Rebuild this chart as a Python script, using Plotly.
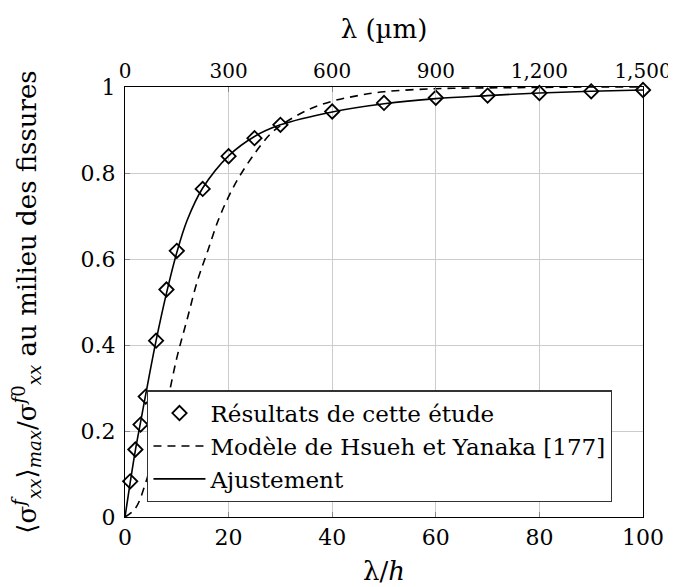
import plotly.graph_objects as go

# Results of this study (lambda/h, normalised stress)
res_x = [1, 2, 3, 4, 6, 8, 10, 15, 20, 25, 30, 40, 50, 60, 70, 80, 90, 100]
res_y = [0.083, 0.157, 0.215, 0.28, 0.41, 0.529, 0.619, 0.763, 0.839, 0.881,
         0.912, 0.943, 0.963, 0.975, 0.980, 0.986, 0.990, 0.993]

# Hsueh & Yanaka model
hy_x = [0, 2, 4, 6, 8, 10, 12, 14, 16, 18, 20, 22, 25, 28, 30, 35, 40, 45, 50, 60, 70, 80, 90, 100]
hy_y = [0, 0.02, 0.08, 0.17, 0.26, 0.37, 0.46, 0.55, 0.62, 0.69, 0.745, 0.79, 0.845,
        0.89, 0.91, 0.945, 0.967, 0.98, 0.989, 0.996, 0.998, 0.999, 1.0, 1.0]

# Fitted curve
fit_x = [0, 1, 2, 3, 4, 6, 8, 10, 12, 15, 20, 25, 30, 40, 50, 60, 70, 80, 90, 100]
fit_y = [0, 0.08, 0.155, 0.22, 0.285, 0.41, 0.52, 0.615, 0.69, 0.765, 0.84, 0.885,
         0.912, 0.942, 0.961, 0.973, 0.980, 0.986, 0.990, 0.993]

top_ticks = [0, 300, 600, 900, 1200, 1500]
top_labels = ["0", "300", "600", "900", "1,200", "1,500"]

font = "DejaVu Serif"
fs = 22

fig = go.Figure()
fig.add_trace(go.Scatter(
    x=res_x, y=res_y, mode="markers", name="Résultats de cette étude",
    marker=dict(symbol="diamond-open", size=11, color="black", line=dict(width=1.8, color="black")),
    cliponaxis=False,
))
fig.add_trace(go.Scatter(
    x=hy_x, y=hy_y, mode="lines", name="Modèle de Hsueh et Yanaka [177]",
    line=dict(color="black", width=1.6, dash="8px,6px", shape="spline"),
))
fig.add_trace(go.Scatter(
    x=fit_x, y=fit_y, mode="lines", name="Ajustement",
    line=dict(color="black", width=1.6, shape="spline"),
))
# dummy trace so the top axis gets drawn
fig.add_trace(go.Scatter(x=[0, 1500], y=[None, None], xaxis="x2", showlegend=False, hoverinfo="skip"))

# the page body adds 8px around the figure, margins take that into account
fig.update_layout(
    width=676, height=587,
    margin=dict(l=116.5, r=41.3, t=79.3, b=77.7),
    paper_bgcolor="white", plot_bgcolor="white",
    font=dict(family=font, size=fs, color="black"),
    showlegend=True,
    legend=dict(
        x=0.043, y=0.034, xanchor="left", yanchor="bottom",
        bgcolor="white", bordercolor="#333", borderwidth=1.2,
        font=dict(size=23), itemwidth=52,
    ),
    xaxis=dict(
        range=[0, 100], tickvals=[0, 20, 40, 60, 80, 100],
        showgrid=True, gridcolor="#cccccc", gridwidth=1,
        showline=True, linecolor="black", linewidth=1.2, mirror=False,
        ticks="inside", ticklen=5, tickcolor="#888",
        zeroline=False, automargin=False,
        title=dict(text="λ/<i>h</i>", standoff=13),
    ),
    xaxis2=dict(
        range=[0, 1500], overlaying="x", side="top",
        tickvals=top_ticks, ticktext=top_labels, tickfont=dict(size=20),
        showgrid=False, showline=True, linecolor="black", linewidth=1.2,
        ticks="inside", ticklen=5, tickcolor="#888",
        zeroline=False, automargin=False,
        title=dict(text="λ (µm)", standoff=12),
    ),
    yaxis=dict(
        range=[0, 1], tickvals=[0, 0.2, 0.4, 0.6, 0.8, 1],
        showgrid=True, gridcolor="#cccccc", gridwidth=1,
        showline=True, linecolor="black", linewidth=1.2, mirror=True,
        ticks="inside", ticklen=5, tickcolor="#888",
        zeroline=False, ticklabelstandoff=4, automargin=False,
        title=dict(
            text="⟨σ<sup><i>f</i></sup><sub><i>xx</i></sub>⟩<sub><i>max</i></sub>/σ<sup><i>f</i>0</sup><sub><i>xx</i></sub> au milieu des fissures",
            standoff=37,
        ),
    ),
)

fig.write_html("out.html")
